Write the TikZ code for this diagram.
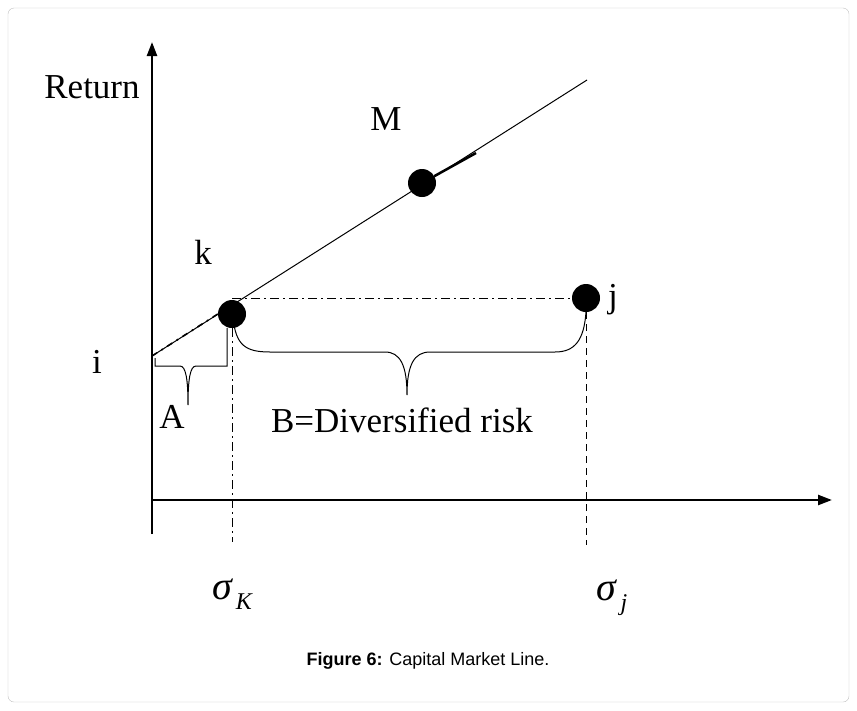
\documentclass[tikz,border=0pt]{standalone}
\usepackage{fontspec}
\setmainfont{Liberation Serif}
\newfontfamily\capfont{Liberation Sans}
\usetikzlibrary{arrows.meta}
\newcommand{\sigmalab}[1]{\itshape σ\hspace{4pt}\raisebox{-10pt}{\fontsize{24}{26}\selectfont #1}}
\begin{document}
\begin{tikzpicture}[x=1pt,y=-1pt,>={Triangle[length=14pt,width=10pt]},
  dot/.style={shape=circle,fill=black,inner sep=0pt,minimum size=28pt},
  lbl/.style={font=\fontsize{35}{37}\selectfont,inner sep=0pt},
  dashdotline/.style={line width=1pt,dash pattern=on 9pt off 4pt on 2pt off 4pt}]
    \useasboundingbox (0,0) rectangle (857,710);
    \draw[gray!50,rounded corners=6pt] (8,8) rectangle (849,702);

    \coordinate (O) at (152,500);
    \coordinate (Ytop) at (152,42);
    \coordinate (Xend) at (832,500);
    \coordinate (Ybot) at (152,534);
    \draw[line width=2.4pt,->] (Ybot) -- (Ytop);
    \draw[line width=2.4pt,->] (O) -- (Xend);

    \coordinate (I) at (152,356);
    \coordinate (E) at (587,80);
    \draw[line width=1pt] (I) -- (E);

    \node[dot] (M) at (422,183) {};
    \node[dot] (K) at (232,314) {};
    \node[dot] (J) at (586,298) {};
    \coordinate (Mt) at (476,153);
    \draw[line width=2.5pt] (M) -- (Mt);

    \node[lbl] (ret) at (92,87) {Return};
    \node[lbl] (mlab) at (386,119) {M};
    \node[lbl] (klab) at (203,252) {k};
    \node[lbl] (jlab) at (613,300) {j};
    \node[lbl] (ilab) at (97,362) {i};
    \node[lbl] (alab) at (172,417) {A};
    \node[lbl] (blab) at (402,420) {B=Diversified risk};
    \node[lbl,font=\fontsize{40}{42}\selectfont] (sk) at (232,594) {\sigmalab{K}};
    \node[lbl,font=\fontsize{40}{42}\selectfont] (sj) at (612,598) {\sigmalab{j}};

    \coordinate (Kl) at (232,298);
    \coordinate (Kd) at (232,542);
    \coordinate (Jd) at (586,545);
    \draw[dashdotline] (Kl) -- (J.west);
    \draw[dashdotline] (K.south) -- (Kd);
    \draw[line width=1pt,dash pattern=on 7pt off 5pt] (J.south) -- (Jd);
    \draw[line width=1.6pt,dash pattern=on 6pt off 5pt on 2pt off 5pt] (I) -- (K.west);

    % braces
    \draw[line width=1pt] (155,358) -- (155,366) -- (180,366)
      .. controls (186,366) and (188,380) .. (188,405)
      .. controls (188,380) and (190,366) .. (196,366) -- (227,366) -- (227,328);
    \draw[line width=1pt] (233,318) .. controls (236,345) and (245,352) .. (270,352)
      -- (385,352) .. controls (400,352) and (407,365) .. (407,395)
      .. controls (407,365) and (414,352) .. (430,352) -- (555,352)
      .. controls (575,352) and (584,340) .. (586,312);

    \node[font=\capfont\fontsize{18}{20}\selectfont] (cap) at (428,661)
      {\textbf{Figure 6:} Capital Market Line.};
\end{tikzpicture}
\end{document}
